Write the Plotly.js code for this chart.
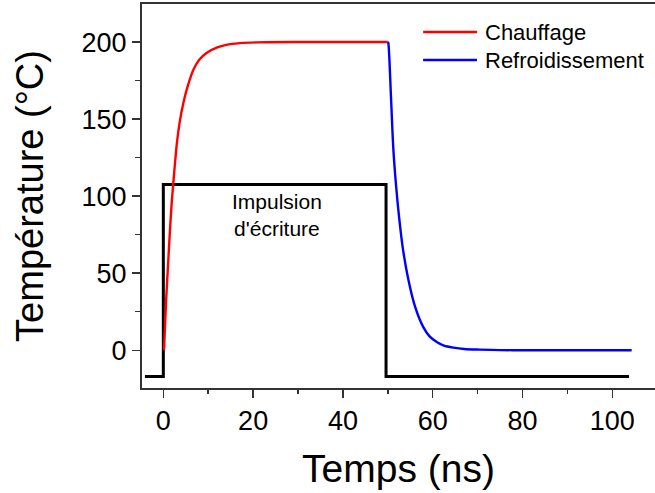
<!DOCTYPE html>
<html>
<head>
<meta charset="utf-8">
<script src="https://cdn.plot.ly/plotly-3.0.1.min.js"></script>
<style>html,body{margin:0;padding:0;background:#fff;}#chart{width:655px;height:493px;}</style>
</head>
<body>
<div id="chart"></div>
<script>
// Heating curve (Chauffage)
const heatT = [0.15, 0.6, 1.1, 1.5, 1.9, 2.5, 3.0, 3.7, 4.5, 5.5, 6.7, 8.0, 9.7, 12, 14, 17, 21, 30, 40, 50];
const heatV = [0, 31, 58, 79, 97, 118, 134, 149, 161, 172, 182, 188.5, 193, 196.5, 198.2, 199.3, 199.8, 200, 200, 200];
// Cooling curve (Refroidissement)
const coolT = [50, 50.1, 50.7, 51.2, 51.8, 52.5, 53.4, 54.6, 56.1, 57.9, 59.3, 60.9, 62.5, 64.6, 67, 70.5, 75, 80, 90, 104.3];
const coolV = [200, 199.5, 164.5, 132, 108, 86.6, 65, 45.5, 28, 15, 9, 5.4, 3, 1.7, 0.8, 0.4, 0.1, 0, 0, 0];
// Write pulse (Impulsion d'écriture)
const pulseT = [-4.1, 0, 0, 49.6, 49.6, 103.7];
const pulseV = [-17, -17, 107.5, 107.5, -17, -17];

const names = ["Chauffage", "Refroidissement"];
const FONT = "Liberation Sans, Arial, sans-serif";

const traces = [
  {x: pulseT, y: pulseV, mode: "lines", line: {color: "#000", width: 3}, showlegend: false, hoverinfo: "skip"},
  {x: heatT, y: heatV, mode: "lines", name: names[0], line: {color: "#ff0000", width: 2.4, shape: "spline", smoothing: 0.8}},
  {x: coolT, y: coolV, mode: "lines", name: names[1], line: {color: "#0000ff", width: 2.4, shape: "spline", smoothing: 0.8}}
];

const layout = {
  width: 655, height: 493,
  margin: {l: 142, r: 0, t: 4, b: 105},
  paper_bgcolor: "#fff", plot_bgcolor: "#fff",
  showlegend: false,
  font: {family: FONT, color: "#000"},
  xaxis: {
    range: [-4.75, 109.5],
    tickvals: [0, 20, 40, 60, 80, 100],
    ticks: "outside", ticklen: 8, tickwidth: 1.5, tickcolor: "#333",
    minor: {tickvals: [10, 30, 50, 70, 90], ticks: "outside", ticklen: 4, tickwidth: 1.5, tickcolor: "#333"},
    showline: true, linecolor: "#333", linewidth: 2, mirror: true,
    showgrid: false, zeroline: false,
    tickfont: {size: 27, family: FONT, color: "#000"},
    title: {text: "Temps (ns)", font: {size: 39, family: FONT, color: "#000"}, standoff: 19}
  },
  yaxis: {
    range: [-24.5, 224.7],
    tickvals: [0, 50, 100, 150, 200],
    ticks: "outside", ticklen: 8, tickwidth: 1.5, tickcolor: "#333",
    minor: {tickvals: [25, 75, 125, 175], ticks: "outside", ticklen: 5, tickwidth: 1.5, tickcolor: "#333"},
    showline: true, linecolor: "#333", linewidth: 2,
    showgrid: false, zeroline: false,
    tickfont: {size: 27, family: FONT, color: "#000"},
    title: {text: "Température (°C)", font: {size: 38, family: FONT, color: "#000"}, standoff: 26}
  },
  shapes: [
    {type: "line", xref: "paper", yref: "paper", x0: 0.548, x1: 0.653, y0: 0.927, y1: 0.927, line: {color: "#ff0000", width: 2.4}},
    {type: "line", xref: "paper", yref: "paper", x0: 0.548, x1: 0.653, y0: 0.854, y1: 0.854, line: {color: "#0000ff", width: 2.4}}
  ],
  annotations: [
    {xref: "paper", yref: "paper", x: 0.665, y: 0.927, text: names[0], showarrow: false, xanchor: "left", yanchor: "middle", font: {size: 22, family: FONT, color: "#000"}},
    {xref: "paper", yref: "paper", x: 0.665, y: 0.854, text: names[1], showarrow: false, xanchor: "left", yanchor: "middle", font: {size: 22, family: FONT, color: "#000"}},
    {x: 25.3, y: 87.7, text: "Impulsion<br>d'écriture", showarrow: false, xanchor: "center", yanchor: "middle", font: {size: 21, family: FONT, color: "#000"}}
  ]
};

Plotly.newPlot("chart", traces, layout, {displayModeBar: false, staticPlot: true});
</script>
</body>
</html>
